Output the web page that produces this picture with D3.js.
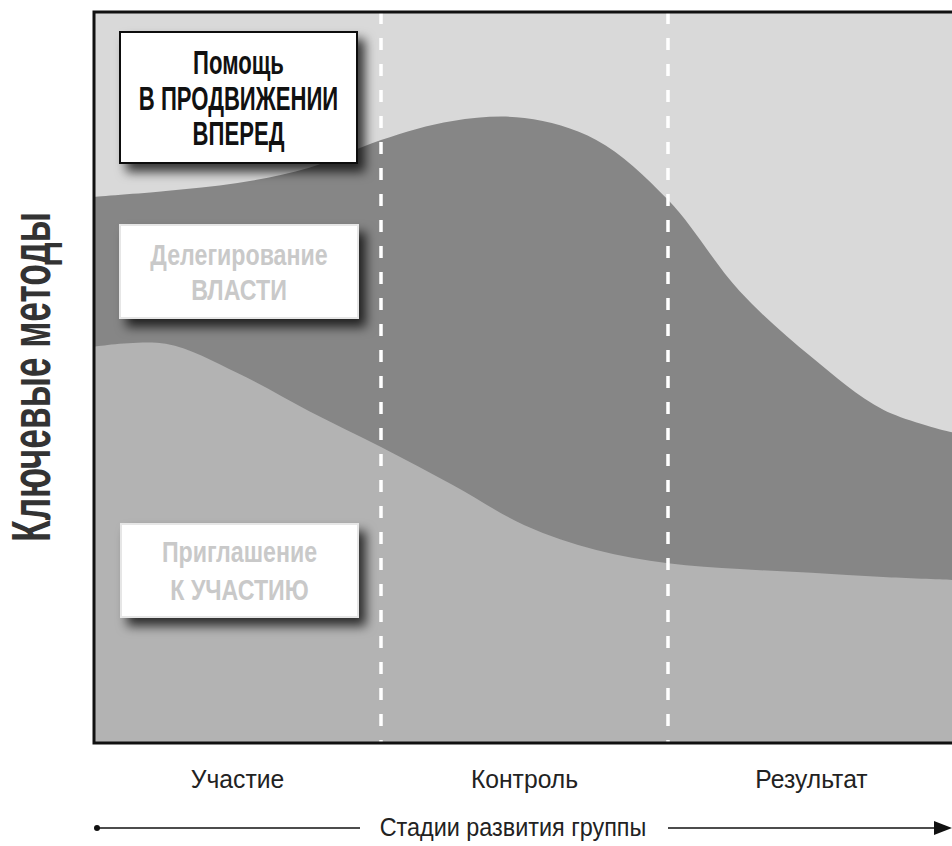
<!DOCTYPE html>
<html>
<head>
<meta charset="utf-8">
<script src="https://cdn.jsdelivr.net/npm/d3@7"></script>
<style>
  body { margin: 0; background: #fff; }
  svg { display: block; }
</style>
</head>
<body>
<div id="chart"></div>
<script>
// stages of group development (bottom axis)
var stages = ["Участие", "Контроль", "Результат"];
// sample points along x, in stage units (0..3)
var xSteps = [0, 0.25, 0.5, 0.75, 1, 1.25, 1.5, 1.75, 2, 2.25, 2.5, 2.75, 3];
// upper edge of the "Приглашение к участию" band, % of plot height
var inviteTop = [54.2, 54.6, 50.6, 45.4, 40.5, 35.3, 29.8, 26.4, 24.6, 23.8, 23.3, 22.7, 22.3];
// upper edge of the "Делегирование власти" band, % of plot height
var delegateTop = [74.7, 75.5, 76.6, 78.7, 82.5, 85.1, 85.5, 82.5, 74.3, 61.8, 52.8, 45.6, 42.4];
// method labels, top to bottom
var methodLabels = [
    ["Помощь", "В ПРОДВИЖЕНИИ", "ВПЕРЕД"],
    ["Делегирование", "ВЛАСТИ"],
    ["Приглашение", "К УЧАСТИЮ"]
];
var yTitle = "Ключевые методы";
var xTitle = "Стадии развития группы";

(function() {
    var width = 952,
        height = 846;
    // plot frame (right edge runs just past the window)
    var pLeft = 94, pRight = 955, pTop = 12, pBottom = 743;
    var font = "'Liberation Sans', Arial, sans-serif";

    var svg = d3.select("#chart").append("svg")
        .attr("width", width)
        .attr("height", height);

    var x = d3.scaleLinear().domain([0, 3]).range([pLeft, pRight]);
    var y = d3.scaleLinear().domain([0, 100]).range([pBottom, pTop]);

    var defs = svg.append("defs");
    var shadow = defs.append("filter").attr("id", "shadow")
        .attr("x", "-20%").attr("y", "-20%").attr("width", "150%").attr("height", "170%");
    shadow.append("feDropShadow")
        .attr("dx", 7).attr("dy", 8)
        .attr("stdDeviation", 5.5)
        .attr("flood-color", "#000")
        .attr("flood-opacity", 0.75);
    defs.append("clipPath").attr("id", "plotclip")
        .append("rect").attr("x", pLeft).attr("y", pTop)
        .attr("width", pRight - pLeft).attr("height", pBottom - pTop);

    var plot = svg.append("g").attr("clip-path", "url(#plotclip)");

    // background = top band
    plot.append("rect")
        .attr("x", pLeft).attr("y", pTop)
        .attr("width", pRight - pLeft).attr("height", pBottom - pTop)
        .attr("fill", "#d9d9d9");

    var area = function(vals) {
        return d3.area()
            .x(function(d, i) { return x(xSteps[i]); })
            .y0(y(0))
            .y1(function(d) { return y(d); })
            .curve(d3.curveCatmullRom.alpha(0.5))(vals);
    };

    plot.append("path").attr("d", area(delegateTop)).attr("fill", "#868686");
    plot.append("path").attr("d", area(inviteTop)).attr("fill", "#b3b3b3");

    // dashed stage separators
    plot.selectAll("line.sep")
        .data([1, 2])
        .enter().append("line")
            .attr("class", "sep")
            .attr("x1", function(d) { return x(d); })
            .attr("x2", function(d) { return x(d); })
            .attr("y1", pTop)
            .attr("y2", pBottom)
            .attr("stroke", "#fff")
            .attr("stroke-width", 3.5)
            .attr("stroke-dasharray", "12,14");

    // frame
    svg.append("rect")
        .attr("x", pLeft).attr("y", pTop)
        .attr("width", pRight - pLeft).attr("height", pBottom - pTop)
        .attr("fill", "none")
        .attr("stroke", "#111")
        .attr("stroke-width", 3);

    function condensed(sel, str, cx, cy, size, weight, fill, sx) {
        return sel.append("text")
            .attr("transform", "translate(" + cx + "," + cy + ") scale(" + sx + ",1)")
            .attr("text-anchor", "middle")
            .attr("font-family", font)
            .attr("font-size", size)
            .attr("font-weight", weight)
            .attr("fill", fill)
            .text(str);
    }

    // label boxes
    var boxes = [
        { x: 120, y: 32, w: 237, h: 131, stroke: "#111", color: "#111", size: 33, sx: 0.67, first: 74, step: 35.5 },
        { x: 120, y: 225, w: 238, h: 93, stroke: "#e6e6e6", color: "#c9c9c9", size: 29, sx: 0.8, first: 265, step: 35 },
        { x: 121, y: 524, w: 237, h: 93, stroke: "#e6e6e6", color: "#c9c9c9", size: 29, sx: 0.8, first: 562, step: 38 }
    ];
    boxes.forEach(function(b, i) {
        var g = svg.append("g");
        g.append("rect")
            .attr("x", b.x).attr("y", b.y)
            .attr("width", b.w).attr("height", b.h)
            .attr("fill", "#fff")
            .attr("stroke", b.stroke)
            .attr("stroke-width", 2)
            .attr("filter", "url(#shadow)");
        methodLabels[i].forEach(function(line, j) {
            condensed(g, line, b.x + b.w / 2, b.first + j * b.step, b.size, "bold", b.color, b.sx);
        });
    });

    // y title
    svg.append("text")
        .attr("transform", "translate(50,377) rotate(-90) scale(0.63,1)")
        .attr("text-anchor", "middle")
        .attr("font-family", font)
        .attr("font-size", 56)
        .attr("font-weight", "bold")
        .attr("fill", "#333")
        .text(yTitle);

    // stage labels
    var band = d3.scaleBand().domain(stages).range([pLeft, pRight]);
    svg.selectAll("text.stage")
        .data(stages)
        .enter().append("text")
            .attr("class", "stage")
            .attr("transform", function(d) { return "translate(" + (band(d) + band.bandwidth() / 2) + ",788) scale(0.95,1)"; })
            .attr("text-anchor", "middle")
            .attr("font-family", font)
            .attr("font-size", 26)
            .attr("fill", "#222")
            .text(function(d) { return d; });

    // x title with arrow
    condensed(svg, xTitle, 513, 836, 26, "normal", "#222", 0.9);
    svg.append("line")
        .attr("x1", 97).attr("x2", 360).attr("y1", 828).attr("y2", 828)
        .attr("stroke", "#111").attr("stroke-width", 1.6);
    svg.append("circle").attr("cx", 97).attr("cy", 828).attr("r", 3).attr("fill", "#111");
    svg.append("line")
        .attr("x1", 668).attr("x2", 936).attr("y1", 828).attr("y2", 828)
        .attr("stroke", "#111").attr("stroke-width", 1.6);
    svg.append("path")
        .attr("d", "M934,821L952,828L934,835Z")
        .attr("fill", "#111");
})();
</script>
</body>
</html>
